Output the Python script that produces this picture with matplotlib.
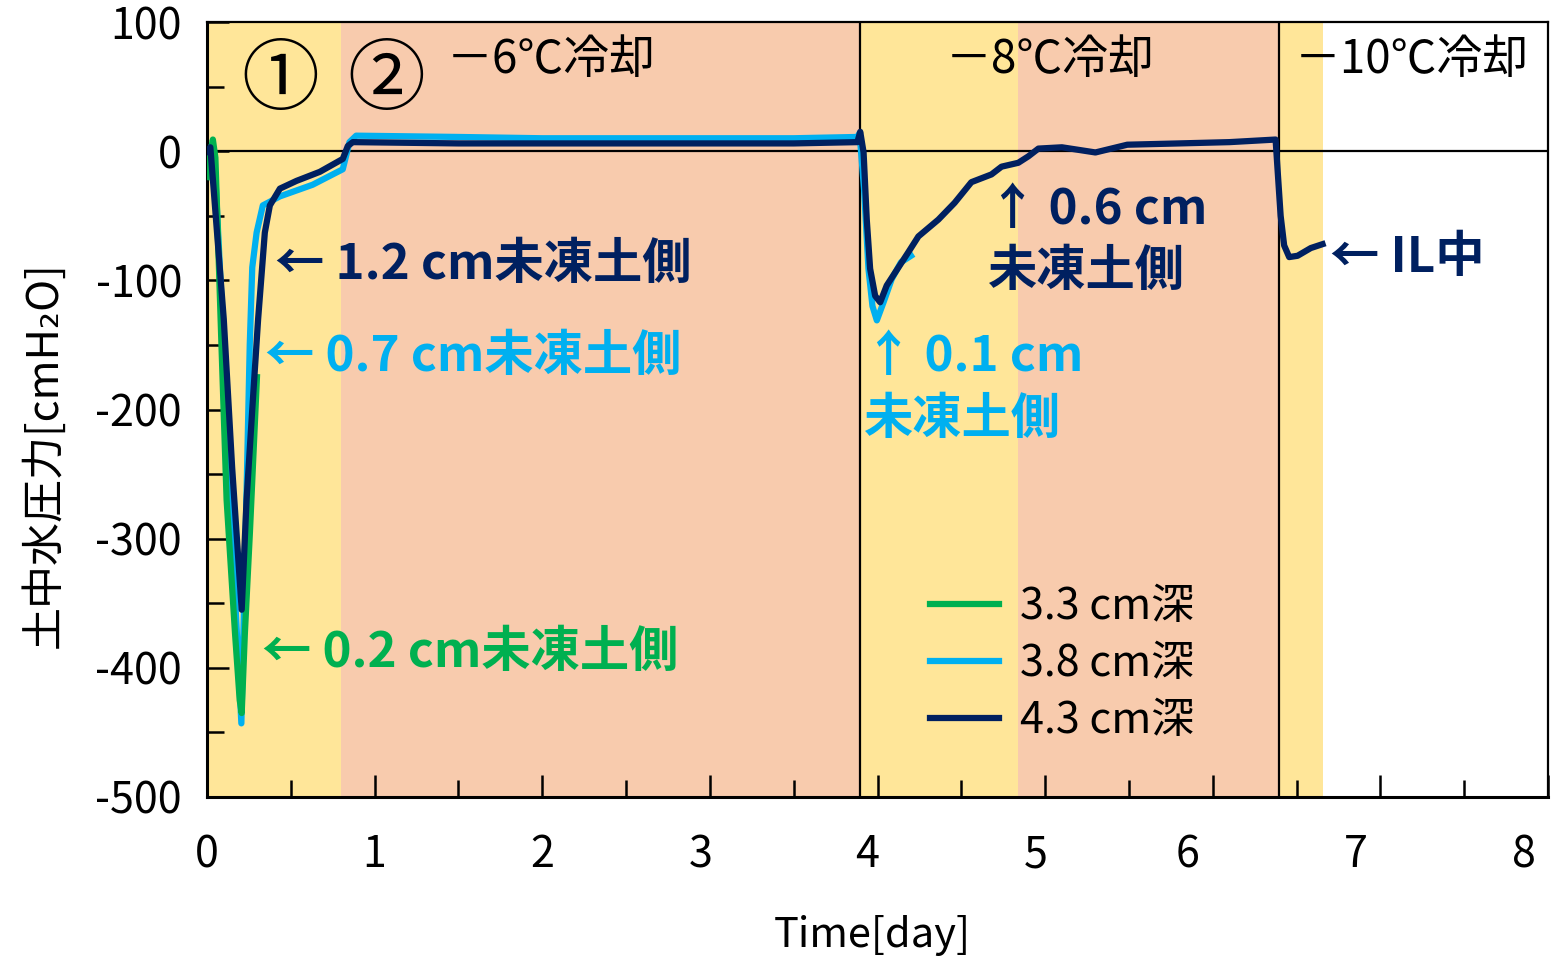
import numpy as np
import matplotlib.pyplot as plt
from matplotlib.ticker import MultipleLocator
from matplotlib.transforms import ScaledTranslation

plt.rcParams['font.family'] = ['Noto Sans CJK JP', 'DejaVu Sans']
plt.rcParams['axes.unicode_minus'] = False

# soil water pressure [cmH2O] vs time [day]
green_t = [0.0, 0.015, 0.035, 0.05, 0.087, 0.117, 0.167, 0.195, 0.207, 0.226, 0.256, 0.298]
green_p = [-20, -5, 9, -5, -153, -270, -373, -425, -435, -373, -295, -175]

blue_t = [0.0, 0.03, 0.05, 0.10, 0.15, 0.205, 0.23, 0.255, 0.27, 0.296, 0.333, 0.435, 0.63, 0.81,
          0.85, 0.89, 1.5, 2.0, 2.5, 3.0, 3.5, 3.88, 3.893, 3.92, 3.946, 3.97, 3.996, 4.036,
          4.085, 4.14, 4.20]
blue_p = [-5, 5, -20, -150, -300, -443, -300, -150, -90, -63, -42, -35, -26, -14,
          7, 12, 11, 10, 10, 10, 10, 11, 14, -30, -91, -120, -131, -117,
          -99, -86, -81]

navy_t = [0.0, 0.02, 0.04, 0.10, 0.15, 0.207, 0.236, 0.27, 0.305, 0.345, 0.375, 0.435, 0.534,
          0.673, 0.81, 0.84, 0.87, 1.5, 2.0, 2.5, 3.0, 3.5, 3.88, 3.897, 3.917, 3.936, 3.956,
          3.986, 4.016, 4.055, 4.105, 4.185, 4.244, 4.363, 4.46, 4.56, 4.68, 4.74, 4.84, 4.9,
          4.96, 5.1, 5.3, 5.49, 5.8, 6.1, 6.375, 6.385, 6.405, 6.426, 6.456, 6.506, 6.585, 6.655]
navy_p = [0, 3, -30, -130, -245, -355, -270, -200, -130, -63, -42, -29, -23,
          -16, -6, 4, 7, 6, 6, 6, 6, 6, 7, 15, -1, -53, -91,
          -112, -117, -104, -94, -78, -66, -53, -40, -24, -18, -12, -9, -4,
          2, 3, -1, 5, 6, 7, 9, -11, -50, -73, -82, -81, -75, -72]

# cooling stages
stage_edges = [0.0, 0.80, 3.893, 4.84, 6.393, 6.655]
stage_colors = ['#FFE699', '#F8CBAD', '#FFE699', '#F8CBAD', '#FFE699']
change_days = [3.893, 6.393]

x_ticks = [0, 1, 2, 3, 4, 5, 6, 7, 8]
# small leftward nudge of the day labels (pixels)
x_label_shift = [0, 0, 0, -9, -10, -9, -25, -25, -24]

GREEN = '#00B050'
BLUE = '#00B0F0'
NAVY = '#002060'

fig = plt.figure(figsize=(15.56, 9.59), dpi=100)
ax = fig.add_axes([207/1556, 1 - 797/959, (1548-207)/1556, (797-22)/959])

for i, c in enumerate(stage_colors):
    ax.axvspan(stage_edges[i], stage_edges[i+1], color=c, lw=0, zorder=0)
for d in change_days:
    ax.axvline(d, color='black', lw=1.6, zorder=1)
ax.axhline(0, color='black', lw=1.6, zorder=1)

ax.plot(blue_t, blue_p, color=BLUE, lw=4.5, zorder=3, label='3.8 cm深')
ax.plot(green_t, green_p, color=GREEN, lw=4.5, zorder=4, label='3.3 cm深')
ax.plot(navy_t, navy_p, color=NAVY, lw=4.5, zorder=5, label='4.3 cm深')

ax.set_xlim(0, 8)
ax.set_ylim(-500, 100)
ax.set_xticks(x_ticks)
ax.xaxis.set_minor_locator(MultipleLocator(0.5))
ax.yaxis.set_major_locator(MultipleLocator(100))
ax.yaxis.set_minor_locator(MultipleLocator(50))
ax.tick_params(axis='both', which='major', direction='in', length=16, width=1.8, labelsize=31)
ax.tick_params(axis='both', which='minor', direction='in', length=12, width=1.8)
ax.tick_params(axis='x', which='major', pad=26)
ax.tick_params(axis='y', which='major', pad=18)
for s in ['left', 'bottom']:
    ax.spines[s].set_linewidth(2.2)
for s in ['top', 'right']:
    ax.spines[s].set_linewidth(1.6)

for lab, dx in zip(ax.get_xticklabels(), x_label_shift):
    lab.set_transform(lab.get_transform() + ScaledTranslation(dx / 100, 0, fig.dpi_scale_trans))

fig.text(872/1556, 1 - 935/959, 'Time[day]', fontsize=30, ha='center', va='center')
fig.text(45/1556, 1 - 455/959, '土中水圧力[cmH₂O]', fontsize=31, ha='center', va='center',
         rotation=90)

# stage markers and cooling labels
ax.text(0.435, 53, '①', fontsize=56, ha='center', va='center')
ax.text(1.07, 53, '②', fontsize=56, ha='center', va='center')
ax.text(1.43, 71, '－6℃冷却', fontsize=33, ha='left', va='center')
ax.text(4.41, 71, '－8℃冷却', fontsize=33, ha='left', va='center')
ax.text(6.49, 71, '－10℃冷却', fontsize=33, ha='left', va='center')

# sensor position labels
bold = dict(fontsize=35.5, fontweight='bold', ha='left', va='center')
ax.text(0.405, -88, '← 1.2 cm未凍土側', color=NAVY, **bold)
ax.text(0.345, -159, '← 0.7 cm未凍土側', color=BLUE, **bold)
ax.text(0.327, -388, '← 0.2 cm未凍土側', color=GREEN, **bold)
ax.text(4.66, -45, '↑ 0.6 cm', color=NAVY, **bold)
ax.text(4.66, -93, '未凍土側', color=NAVY, **bold)
ax.text(3.92, -159, '↑ 0.1 cm', color=BLUE, **bold)
ax.text(3.92, -208, '未凍土側', color=BLUE, **bold)
ax.text(6.70, -82, '← IL中', color=NAVY, **bold)

h, l = ax.get_legend_handles_labels()
order = [1, 0, 2]
ax.legend([h[i] for i in order], [l[i] for i in order], loc='center left',
          bbox_to_anchor=((930-207)/1341, (797-664)/775), frameon=False, fontsize=31,
          borderpad=0, borderaxespad=0,
          handlelength=1.6, handletextpad=0.5, labelspacing=0.3)

fig.savefig('out.png', dpi=100)
